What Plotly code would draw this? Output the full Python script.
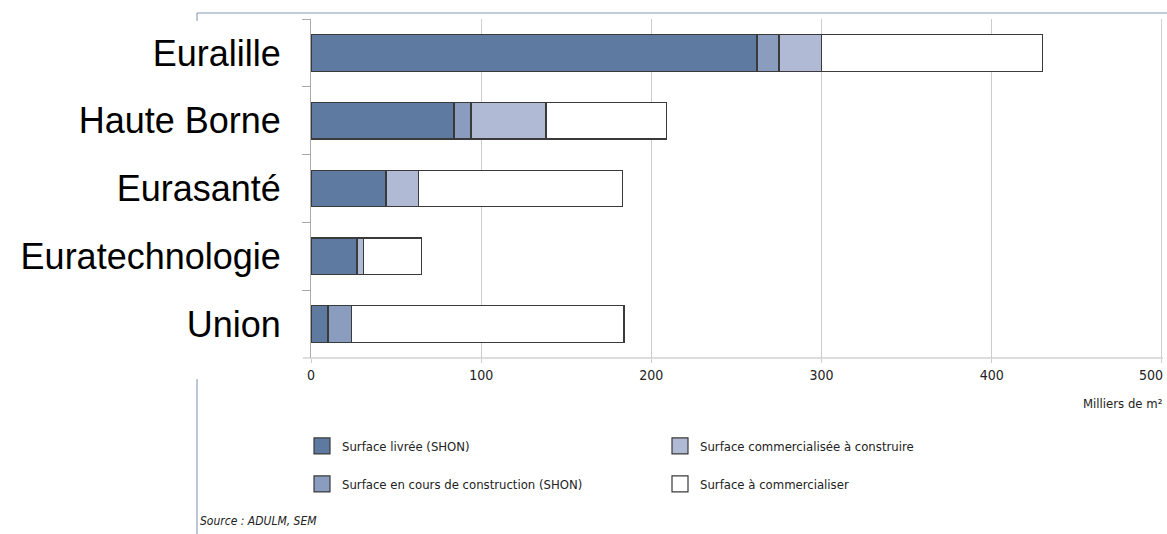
import plotly.graph_objects as go

categories = ["Euralille", "Haute Borne", "Eurasanté", "Euratechnologie", "Union"]
series_names = [
    "Surface livrée (SHON)",
    "Surface en cours de construction (SHON)",
    "Surface commercialisée à construire",
    "Surface à commercialiser",
]
livree = [262, 84, 44, 27, 10]
en_cours = [13, 10, 0, 0, 14]
commercialisee = [25, 44, 19, 4, 0]
a_commercialiser = [130, 71, 120, 34, 160]
x_ticks = [0, 100, 200, 300, 400, 500]

colors = ["#5F7AA0", "#8A9DBF", "#B0BAD4", "#FFFFFF"]
values = [livree, en_cours, commercialisee, a_commercialiser]
legend_of = ["legend", "legend2", "legend", "legend2"]

W, H = 1167, 534
L, R, T, B = 311, 0, 19, 176
PW, PH = W - L - R, H - T - B
X_MAX = 503
NARROW = "DejaVu Sans Condensed, Liberation Sans Narrow, sans-serif"
SMALL = 13

fig = go.Figure()
for name, vals, col in zip(series_names, values, colors):
    fig.add_trace(go.Bar(
        y=categories, x=vals, name=name, orientation="h",
        marker=dict(color=col, line=dict(color="#3a3a3a", width=1.3)),
        width=0.54, showlegend=False,
    ))
# legend entries (square symbols)
for name, col, lg in zip(series_names, colors, legend_of):
    fig.add_trace(go.Scatter(
        x=[None], y=[None], mode="markers", name=name, legend=lg,
        marker=dict(symbol="square", size=18, color=col,
                    line=dict(color="#3a3a3a", width=1.2)),
        showlegend=True,
    ))

def px2x(px):
    return (px - L) / PW

def px2y(py):
    return (H - B - py) / PH

legend_common = dict(
    orientation="h", xanchor="left", yanchor="middle",
    entrywidth=313, entrywidthmode="pixels", traceorder="normal",
    font=dict(family=NARROW, size=SMALL, color="#222"),
    bgcolor="rgba(0,0,0,0)", itemsizing="trace",
)

# the last tick label sits at the right edge: it is right-aligned to its gridline
tick_text = [str(v) for v in x_ticks[:-1]] + [""]
tick_font = dict(family=NARROW, size=14, color="#222")

fig.update_layout(
    width=W, height=H,
    margin=dict(l=L, r=R, t=T, b=B, autoexpand=False),
    paper_bgcolor="white", plot_bgcolor="white",
    barmode="stack",
    showlegend=True,
    legend=dict(x=px2x(302), y=px2y(446), **legend_common),
    legend2=dict(x=px2x(302), y=px2y(484), **legend_common),
    xaxis=dict(
        range=[0, X_MAX], tickvals=x_ticks, ticktext=tick_text,
        showgrid=True, gridcolor="#cccccc", gridwidth=1,
        zeroline=False, showline=False,
        ticks="outside", ticklen=4, tickcolor="#cccccc",
        tickfont=tick_font, automargin=False,
        fixedrange=True,
    ),
    yaxis=dict(
        type="category", autorange="reversed",
        showline=True, linecolor="#aaaaaa", linewidth=1,
        ticks="outside", ticklen=8, tickcolor="#aaaaaa", tickson="boundaries",
        tickfont=dict(family="Liberation Sans, Arial, sans-serif", size=36, color="#000"),
        ticklabelstandoff=22, showgrid=False, fixedrange=True, automargin=False,
    ),
    font=dict(family=NARROW),
)

fig.add_annotation(
    text=str(x_ticks[-1]), xref="x", yref="paper",
    x=x_ticks[-1], y=px2y(375), xanchor="right", yanchor="middle", xshift=3,
    showarrow=False, font=tick_font,
)
fig.add_annotation(
    text="Milliers de m²", xref="paper", yref="paper",
    x=px2x(1164), y=px2y(404), xanchor="right", yanchor="middle",
    showarrow=False, font=dict(family=NARROW, size=SMALL, color="#222"),
)
fig.add_annotation(
    text="<i>Source : ADULM, SEM</i>", xref="paper", yref="paper",
    x=px2x(198), y=px2y(521), xanchor="left", yanchor="middle",
    showarrow=False, font=dict(family=NARROW, size=12, color="#222"),
)

# bottom axis line (extends to the left tick marks like the reference)
fig.add_shape(type="line", xref="paper", yref="paper",
              x0=px2x(303), x1=px2x(1163), y0=0, y1=0,
              line=dict(color="#bbbbbb", width=1))

# frame lines
frame = dict(xref="paper", yref="paper", type="line")
fig.add_shape(**frame, x0=px2x(197), x1=px2x(W), y0=px2y(13), y1=px2y(13),
              line=dict(color="#aab8cf", width=1.5))
fig.add_shape(**frame, x0=px2x(197), x1=px2x(197), y0=px2y(13), y1=px2y(21),
              line=dict(color="#8fa2bf", width=1.2))
fig.add_shape(**frame, x0=px2x(197), x1=px2x(197), y0=px2y(379), y1=px2y(H),
              line=dict(color="#8fa2bf", width=1.2))

fig.write_html("out.html")
